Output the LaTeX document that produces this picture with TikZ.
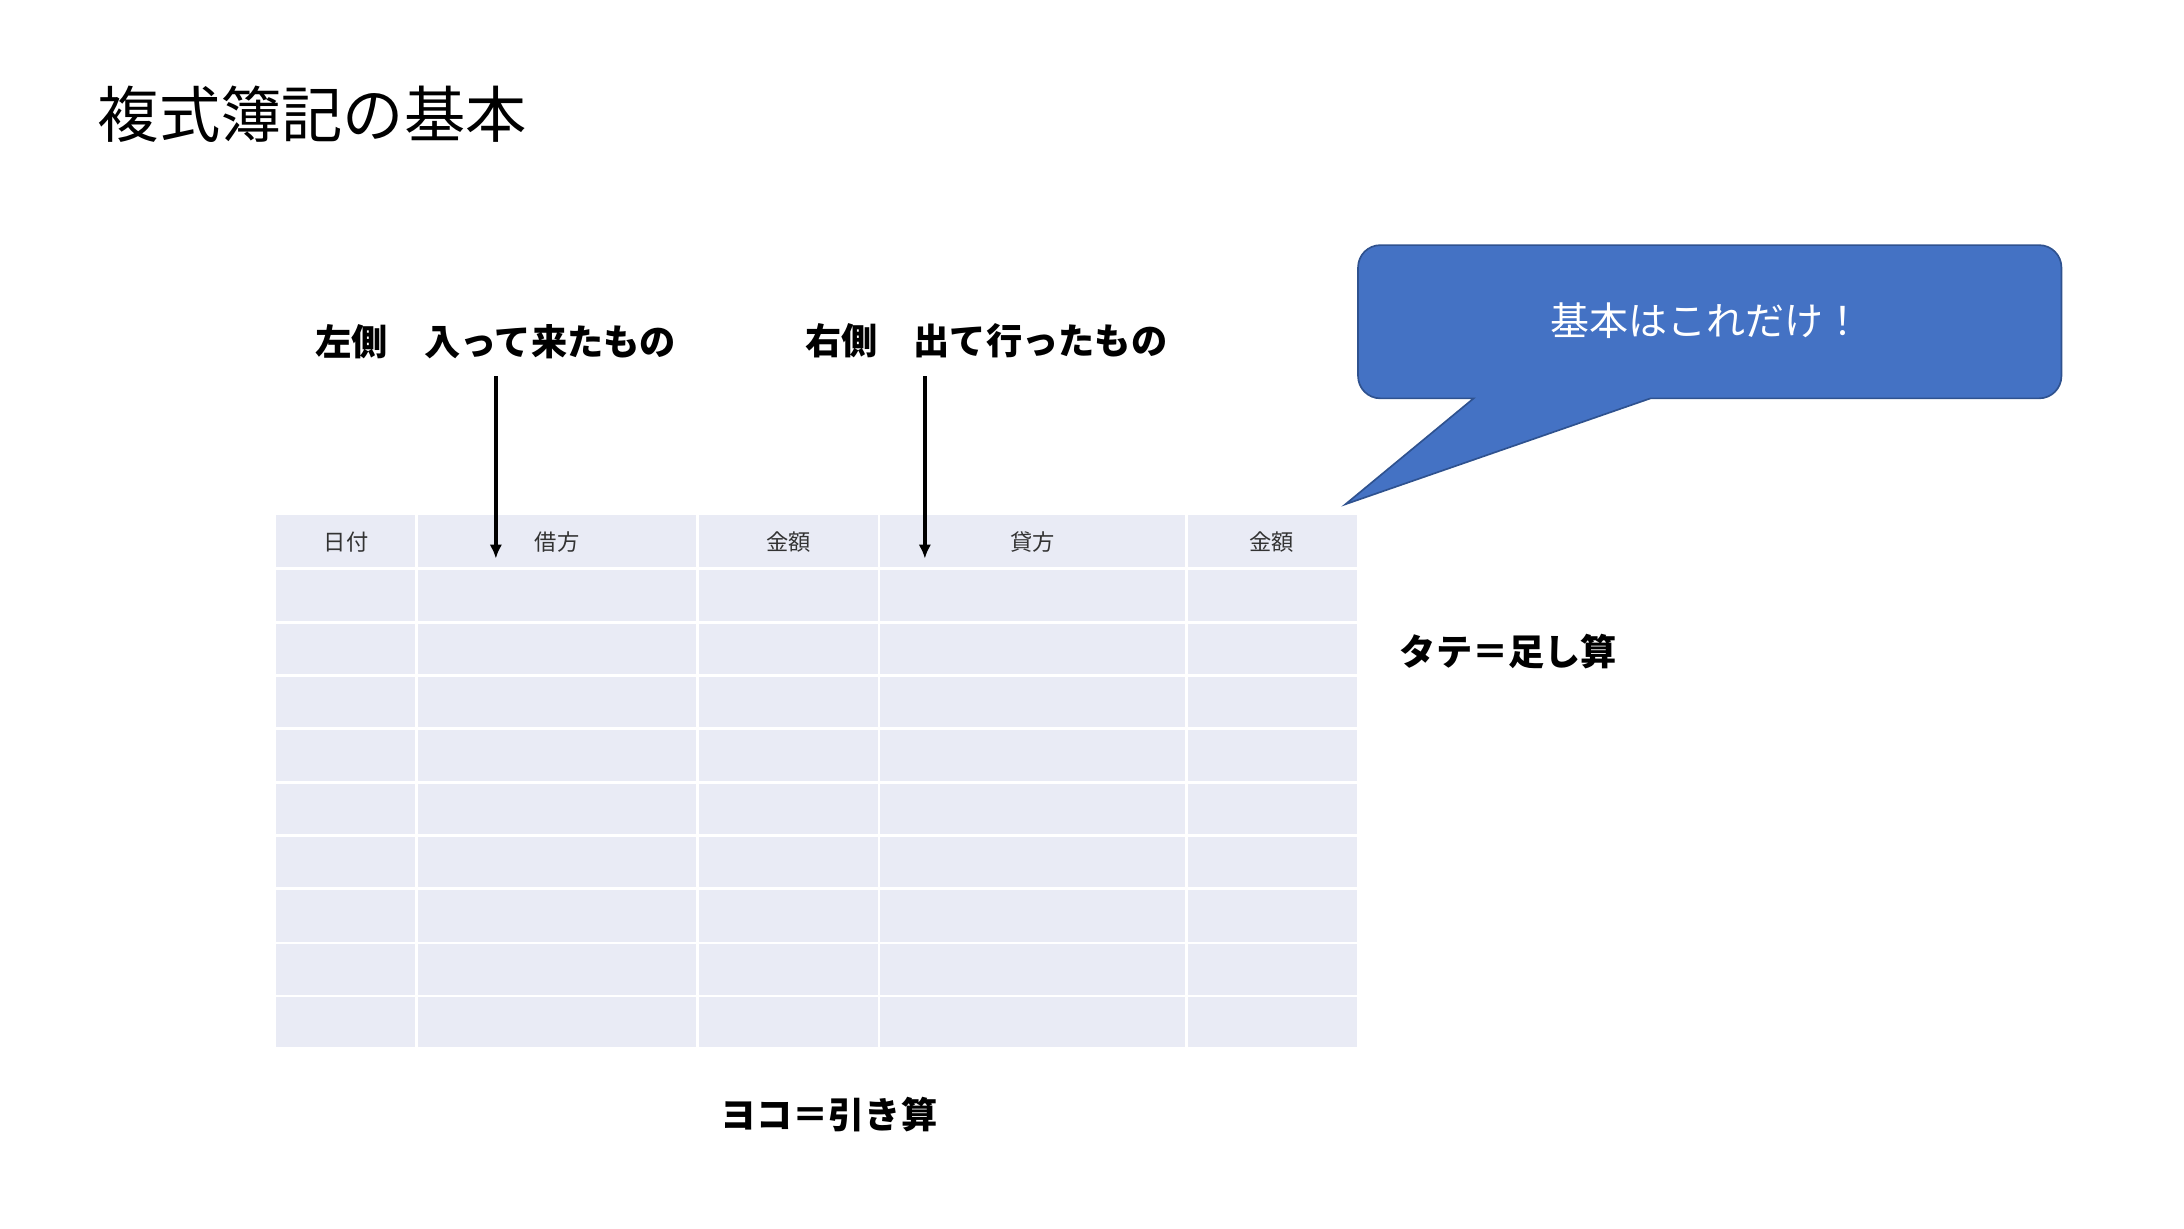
\documentclass[tikz,border=0pt]{standalone}
\usepackage{fontspec}
\setmainfont{Noto Sans CJK JP}
\usetikzlibrary{arrows.meta}
\definecolor{cell}{HTML}{E9EBF5}
\definecolor{callout}{HTML}{4472C4}
\definecolor{calloutb}{HTML}{2F528F}
\tikzset{
  lbl/.style={font=\fontsize{26}{30}\selectfont\bfseries, text=black, inner sep=0},
  hdr/.style={font=\fontsize{16}{19}\selectfont, text=black!80, inner sep=0},
  arr/.style={line width=2.6pt, -{Latex[length=10pt,width=9pt]}}
}
\begin{document}
\begin{tikzpicture}[x=1pt,y=-1pt]
\useasboundingbox (0,0) rectangle (1568,882);
% title
\node[anchor=west, inner sep=0, font=\fontsize{44}{50}\selectfont] (title) at (70,82) {複式簿記の基本};
% table
\fill[cell] (198,370) rectangle (974,752);
\foreach \x in {299,501,631,852} \draw[white, line width=2pt] (\x,370) -- (\x,752);
\foreach \y in {408,447,485,523,562,600,638,677,715} \draw[white, line width=2pt] (198,\y) -- (974,\y);
\node[hdr] (h1) at (248.5,389) {日付};
\node[hdr] (h2) at (400,389) {借方};
\node[hdr] (h3) at (566,389) {金額};
\node[hdr] (h4) at (741.5,389) {貸方};
\node[hdr] (h5) at (913,389) {金額};
% labels
\node[lbl] (left) at (356,245) {左側　入って来たもの};
\node[lbl] (right) at (708,245) {右側　出て行ったもの};
\coordinate (a1s) at (356,270); \coordinate (a1e) at (356,401);
\coordinate (a2s) at (664,270); \coordinate (a2e) at (664,401);
\draw[arr] (a1s) -- (a1e);
\draw[arr] (a2s) -- (a2e);
\node[lbl] (tate) at (1083,468) {タテ＝足し算};
\node[lbl] (yoko) at (595,800) {ヨコ＝引き算};
% callout
\draw[calloutb, fill=callout, line width=1.2pt, rounded corners=16pt]
  (1058,286) [sharp corners]-- (966,362) -- (1185,286) [rounded corners=16pt] -- (1480,286) -- (1480,176) -- (975,176) -- (975,286) [sharp corners] -- cycle;
\node[inner sep=0, text=white, font=\fontsize{28}{32}\selectfont] (callt) at (1225,230) {基本はこれだけ！};
\end{tikzpicture}
\end{document}
